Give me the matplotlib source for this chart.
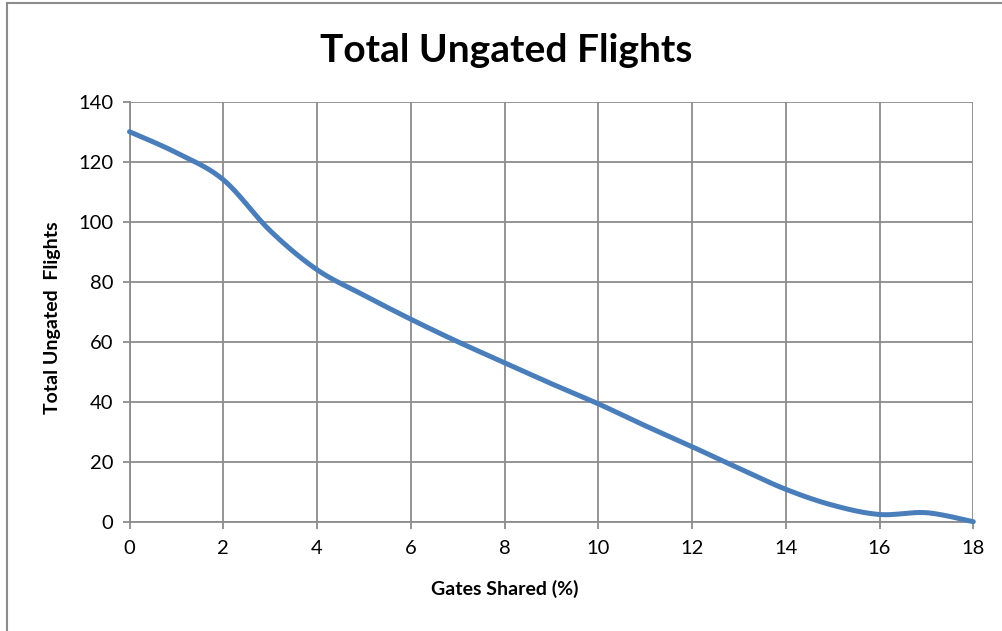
import numpy as np
import matplotlib
matplotlib.use("Agg")
import matplotlib.pyplot as plt
from matplotlib.lines import Line2D

# Data
gates_shared = [0, 1, 2, 3, 4, 5, 6, 7, 8, 9, 10, 11, 12, 13, 14, 15, 16, 17, 18]
ungated = [130, 123, 114, 97, 84, 75.5, 67.5, 60, 53, 46, 39.3, 32, 25, 17.8, 10.8, 5.5, 2.4, 3, 0]
x_ticks = list(range(0, 19, 2))
y_ticks = list(range(0, 141, 20))

TITLE = "Total Ungated Flights"
XLABEL = "Gates Shared (%)"
YLABEL = "Total Ungated  Flights"

plt.rcParams['font.family'] = ['Lato', 'DejaVu Sans']

W, H = 1003, 631
fig = plt.figure(figsize=(W / 100, H / 100), dpi=100)
L, R, T, B = 129.5, 973.3, 101.7, 521.7
ax = fig.add_axes([L / W, 1 - B / H, (R - L) / W, (B - T) / H])


def excel_smooth(xs, ys, n=30):
    # Catmull-Rom style smoothing (like Excel smoothed line) in display space
    P = ax.transData.transform(np.column_stack([xs, ys]))
    out = []
    m = len(P)
    for i in range(m - 1):
        p0 = P[max(i - 1, 0)]
        p1 = P[i]
        p2 = P[i + 1]
        p3 = P[min(i + 2, m - 1)]
        c1 = p1 + (p2 - p0) / 6.0
        c2 = p2 - (p3 - p1) / 6.0
        t = np.linspace(0, 1, n)[:, None]
        seg = ((1 - t) ** 3) * p1 + 3 * ((1 - t) ** 2) * t * c1 + 3 * (1 - t) * t ** 2 * c2 + t ** 3 * p2
        out.append(seg if i == 0 else seg[1:])
    pts = np.vstack(out)
    return ax.transData.inverted().transform(pts)


ax.set_xlim(0, 18)
ax.set_ylim(0, 140)
curve = excel_smooth(gates_shared, ungated)
ax.plot(curve[:, 0], curve[:, 1], color='#4a7ebb', lw=3.6, solid_capstyle='round', zorder=3, clip_on=False)

ax.set_xticks(x_ticks)
ax.set_yticks(y_ticks)
ax.grid(True, color='#8c8c8c', lw=1.3)
ax.set_axisbelow(True)
for s in ['top', 'right']:
    ax.spines[s].set_visible(False)
for s in ['left', 'bottom']:
    ax.spines[s].set_color('#8c8c8c')
    ax.spines[s].set_linewidth(1.3)
ax.tick_params(axis='both', direction='out', length=5, width=1.3, color='#8c8c8c',
               labelsize=14.5, labelcolor='#000000')
ax.tick_params(axis='x', pad=8)
ax.tick_params(axis='y', pad=6.5)

ax.set_xlabel(XLABEL, fontsize=14, fontweight='bold')
ax.set_ylabel(YLABEL, fontsize=14, fontweight='bold')
ax.xaxis.set_label_coords((505 - L) / (R - L), (B - 580) / (B - T))
ax.yaxis.set_label_coords((61 - L) / (R - L), (B - 318) / (B - T))
fig.text(506 / W, 1 - 50 / H, TITLE, ha='center', va='center',
         fontsize=28, fontweight='bold')

# frame border (left and top edges)
fig.add_artist(Line2D([7 / W, 7 / W], [0, 1 - 3 / H], transform=fig.transFigure, color='#8c8c8c', lw=1.5))
fig.add_artist(Line2D([7 / W, 1], [1 - 3 / H, 1 - 3 / H], transform=fig.transFigure, color='#8c8c8c', lw=1.5))

fig.savefig('out.png', dpi=100)
